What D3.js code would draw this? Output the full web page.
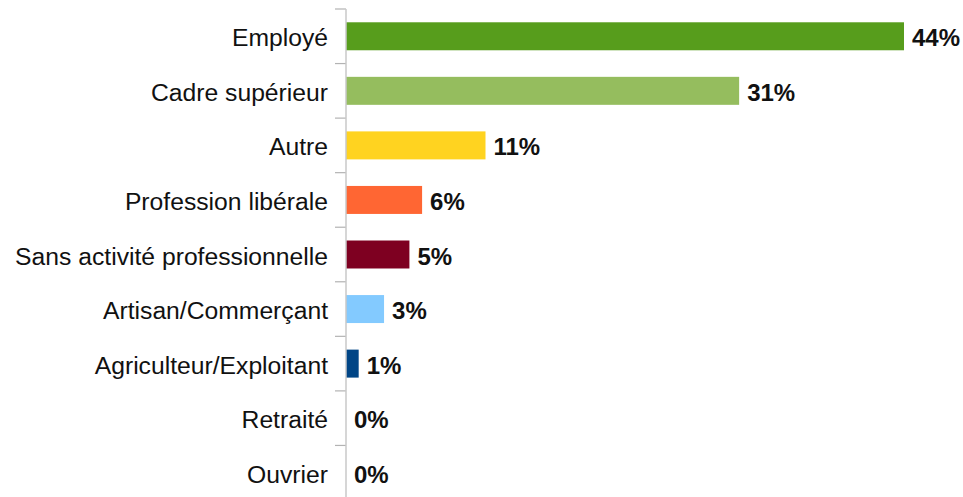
<html>
<head>
<meta charset="utf-8">
<style>
  body { margin: 0; background: #fff; }
  text { font-family: "Liberation Sans", Arial, sans-serif; }
</style>
<script src="https://d3js.org/d3.v7.min.js"></script>
</head>
<body>
<svg id="chart" width="963" height="497"></svg>
<script>
// data
var categories = ["Employé", "Cadre supérieur", "Autre", "Profession libérale",
  "Sans activité professionnelle", "Artisan/Commerçant", "Agriculteur/Exploitant",
  "Retraité", "Ouvrier"];
var values = [44, 31, 11, 6, 5, 3, 1, 0, 0];
var colors = ["#579d1c", "#95bd5e", "#ffd320", "#ff6633", "#7e0021",
  "#83caff", "#004586", "#999999", "#999999"];

var svg = d3.select("#chart");

var x = d3.scaleLinear().domain([0, 44]).range([346, 904]);
var y = d3.scaleBand().domain(categories).range([9, 500])
  .paddingInner(0.487).paddingOuter(0.2435);

// bars
svg.selectAll("rect.bar").data(categories).enter().append("rect")
  .attr("class", "bar")
  .attr("x", x(0))
  .attr("y", function (d) { return y(d); })
  .attr("width", function (d, i) { return x(values[i]) - x(0); })
  .attr("height", y.bandwidth())
  .attr("fill", function (d, i) { return colors[i]; });

// axis line + ticks between categories
var step = y.step();
var tickPos = d3.range(categories.length + 1).map(function (i) { return 9 + i * step; });
svg.selectAll("line.tick").data(tickPos).enter().append("line")
  .attr("x1", 335).attr("x2", x(0))
  .attr("y1", function (d) { return d; }).attr("y2", function (d) { return d; })
  .attr("stroke", "#b3b3b3").attr("stroke-width", 1.2);
svg.append("line")
  .attr("x1", x(0)).attr("x2", x(0)).attr("y1", 9).attr("y2", 500)
  .attr("stroke", "#c8c8c8").attr("stroke-width", 1.5);

// category labels
svg.selectAll("text.cat").data(categories).enter().append("text")
  .attr("class", "cat")
  .attr("x", 328)
  .attr("y", function (d) { return y(d) + y.bandwidth() / 2 + 10; })
  .attr("text-anchor", "end")
  .attr("font-size", 24.7)
  .attr("fill", "#111")
  .text(function (d) { return d; });

// value labels
svg.selectAll("text.val").data(categories).enter().append("text")
  .attr("class", "val")
  .attr("x", function (d, i) { return x(values[i]) + 8; })
  .attr("y", function (d) { return y(d) + y.bandwidth() / 2 + 10; })
  .attr("font-size", 24)
  .attr("font-weight", "bold")
  .attr("fill", "#111")
  .text(function (d, i) { return values[i] + "%"; });
</script>
</body>
</html>
